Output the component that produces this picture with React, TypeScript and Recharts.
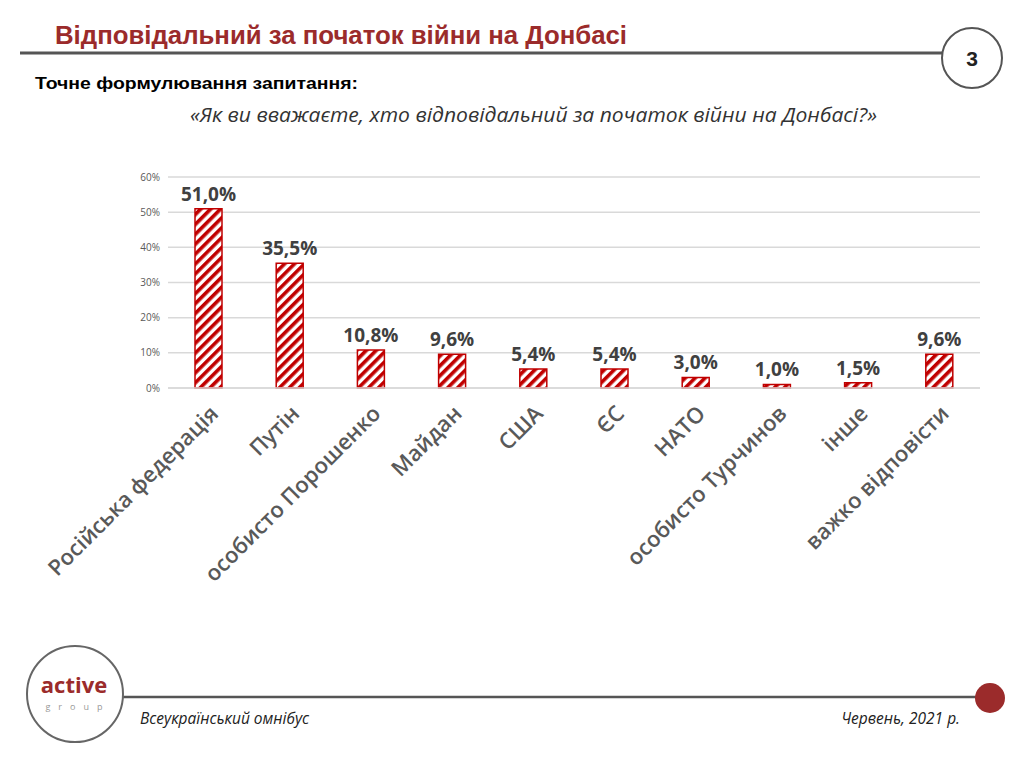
import { Bar, BarChart, CartesianGrid, LabelList, XAxis, YAxis } from "recharts";

const CATEGORIES = [
  "Російська федерація",
  "Путін",
  "особисто Порошенко",
  "Майдан",
  "США",
  "ЄС",
  "НАТО",
  "особисто Турчинов",
  "інше",
  "важко відповісти",
];
const VALUES = [51.0, 35.5, 10.8, 9.6, 5.4, 5.4, 3.0, 1.0, 1.5, 9.6];
const Y_TICKS = [0, 10, 20, 30, 40, 50, 60];

const RED = "#c00000";
const DARK_RED = "#9b2b2b";
const GREY = "#595959";
const LABEL_FONT = "'Open Sans', 'Noto Sans', sans-serif";
const HEAD_FONT = "'Liberation Sans', Arial, sans-serif";

const data = CATEGORIES.map((name, i) => ({ name, value: VALUES[i] }));

const fmt = (v: number) => `${v.toFixed(1).replace(".", ",")}%`;

function XTick({ x, y, payload }: any) {
  return (
    <g transform={`translate(${x + 11},${y + 19})`}>
      <text
        transform="rotate(-45)"
        textAnchor="end"
        fill={GREY}
        fontSize={22}
        fontWeight={600}
        fontFamily={LABEL_FONT}
      >
        {payload.value}
      </text>
    </g>
  );
}

export default function App() {
  return (
    <div
      style={{
        position: "absolute",
        left: 0,
        top: 0,
        width: 1024,
        height: 762,
        background: "#fff",
        overflow: "hidden",
      }}
    >
      <svg width={1024} height={762} style={{ position: "absolute", left: 0, top: 0 }}>
        <text
          x={55}
          y={44}
          fill={DARK_RED}
          fontSize={25}
          fontWeight={700}
          fontFamily={HEAD_FONT}
          textLength={572}
          lengthAdjust="spacingAndGlyphs"
        >
          Відповідальний за початок війни на Донбасі
        </text>
        <line x1={20} y1={53} x2={943} y2={53} stroke="#555" strokeWidth={3} />
        <circle cx={972} cy={58} r={30} fill="#fff" stroke="#555" strokeWidth={2} />
        <text x={972} y={66} textAnchor="middle" fontSize={21} fontWeight={700} fontFamily={HEAD_FONT} fill="#222">
          3
        </text>
        <text
          x={35}
          y={89}
          fill="#000"
          fontSize={17}
          fontWeight={700}
          fontFamily={HEAD_FONT}
          textLength={323}
          lengthAdjust="spacingAndGlyphs"
        >
          Точне формулювання запитання:
        </text>
        <text
          x={190}
          y={122}
          fill="#333"
          fontSize={20}
          fontStyle="italic"
          fontFamily={LABEL_FONT}
          textLength={687}
          lengthAdjust="spacingAndGlyphs"
        >
          «Як ви вважаєте, хто відповідальний за початок війни на Донбасі?»
        </text>

        <line x1={122} y1={697} x2={980} y2={697} stroke="#555" strokeWidth={2.5} />
        <circle cx={990} cy={698} r={15} fill={DARK_RED} />
        <circle cx={75} cy={694} r={48} fill="#fff" stroke="#666" strokeWidth={2} />
        <text x={74} y={693} textAnchor="middle" fill={DARK_RED} fontSize={22} fontWeight={700} fontFamily={LABEL_FONT}>
          active
        </text>
        <text x={78} y={710} textAnchor="middle" fill="#999" fontSize={9} letterSpacing={8} fontFamily={LABEL_FONT}>
          group
        </text>
        <text x={140} y={724} fill="#222" fontSize={15.5} fontStyle="italic" fontFamily={LABEL_FONT}>
          Всеукраїнський омнібус
        </text>
        <text x={960} y={724} textAnchor="end" fill="#222" fontSize={15.5} fontStyle="italic" fontFamily={LABEL_FONT}>
          Червень, 2021 р.
        </text>
      </svg>

      <div style={{ position: "absolute", left: 0, top: 140 }}>
        <BarChart
          width={1024}
          height={480}
          data={data}
          margin={{ top: 37, right: 44, bottom: 32, left: 118 }}
          barCategoryGap="33%"
        >
          <defs>
            <pattern
              id="stripes"
              patternUnits="userSpaceOnUse"
              width={7}
              height={7}
              patternTransform="rotate(45)"
            >
              <rect x={0} y={0} width={7} height={7} fill="#fff" />
              <rect x={0} y={0} width={3.6} height={7} fill={RED} />
            </pattern>
          </defs>
          <CartesianGrid vertical={false} stroke="#d9d9d9" strokeWidth={1.5} />
          <XAxis
            dataKey="name"
            interval={0}
            tick={<XTick />}
            tickLine={false}
            axisLine={{ stroke: "#d9d9d9", strokeWidth: 1.5 }}
            height={200}
          />
          <YAxis
            domain={[0, 60]}
            ticks={Y_TICKS}
            width={50}
            tickFormatter={(v) => `${v}%`}
            tick={{ fill: GREY, fontSize: 10, fontFamily: LABEL_FONT }}
            axisLine={false}
            tickLine={false}
          />
          <Bar
            dataKey="value"
            fill="url(#stripes)"
            stroke={RED}
            strokeWidth={1.5}
            barSize={27}
            isAnimationActive={false}
          >
            <LabelList
              dataKey="value"
              position="top"
              offset={8}
              formatter={(v: any) => fmt(Number(v))}
              fill="#404040"
              fontSize={19}
              fontWeight={700}
              fontFamily={LABEL_FONT}
            />
          </Bar>
        </BarChart>
      </div>
    </div>
  );
}
